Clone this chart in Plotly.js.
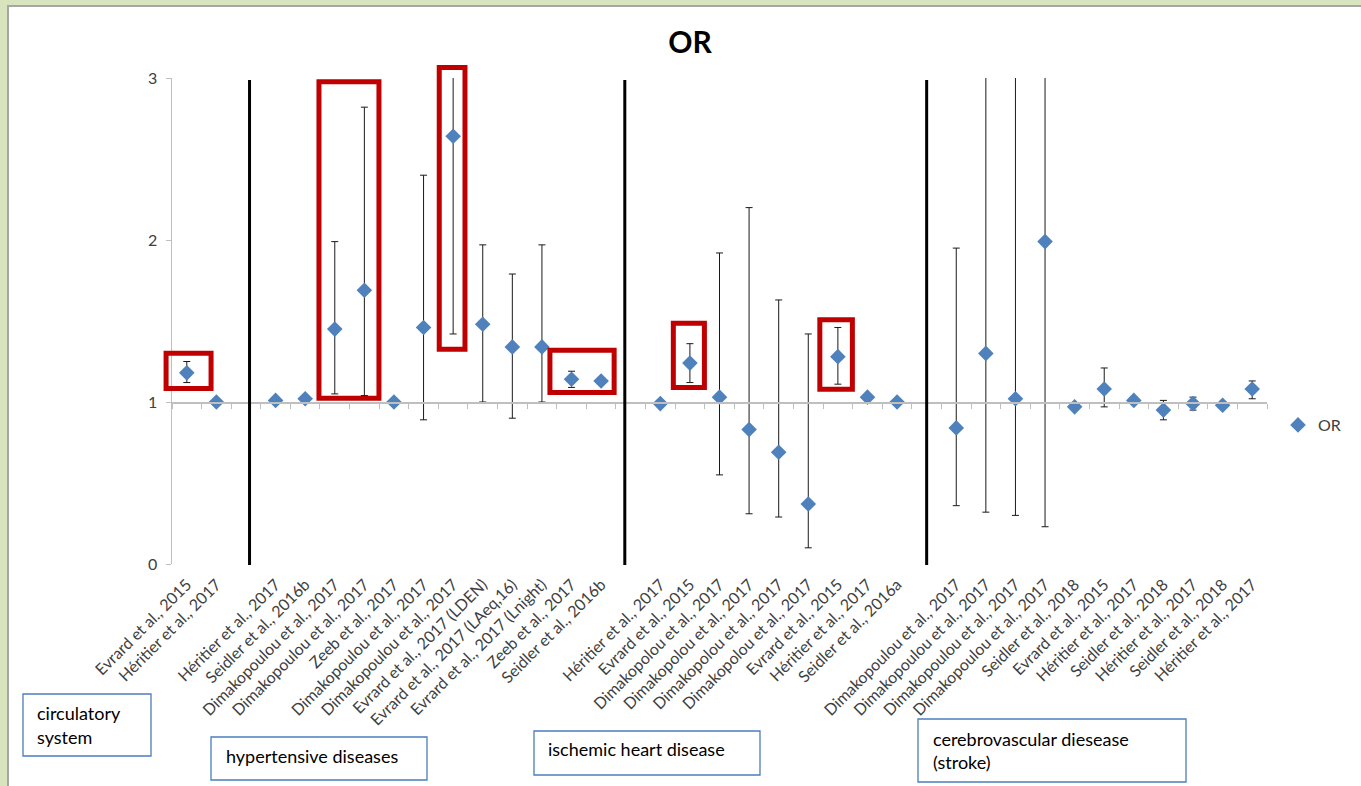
<!DOCTYPE html>
<html>
<head>
<meta charset="utf-8">
<script src="https://cdn.plot.ly/plotly-3.0.1.min.js"></script>
<style>
  html, body { margin: 0; padding: 0; }
  body { width: 1361px; height: 786px; background: #d7e4bd; position: relative; overflow: hidden; }
  #frame { position: absolute; left: 7px; top: 5px; width: 1354px; height: 781px; background: #ffffff;
           border-left: 2px solid #a6a6a6; border-top: 2px solid #a6a6a6; box-sizing: border-box; }
  #chart { position: absolute; left: 0; top: 0; width: 1361px; height: 786px; }
</style>
</head>
<body>
<div id="frame"></div>
<div id="chart"></div>
<script>
// ---------------- DATA ----------------
const groupNames = ["circulatory system", "hypertensive diseases", "ischemic heart disease", "cerebrovascular diesease (stroke)"];

const labelsCirc = ["Evrard et al., 2015", "Héritier et al., 2017"];
const orCirc = [1.18, 1.00];
const loCirc = [1.12, 0.99];
const hiCirc = [1.25, 1.01];

const labelsHyp = ["Héritier et al., 2017", "Seidler et al., 2016b", "Dimakopoulou et al., 2017", "Dimakopoulou et al., 2017",
  "Zeeb et al., 2017", "Dimakopoulou et al., 2017", "Dimakopoulou et al., 2017", "Evrard et al., 2017 (LDEN)",
  "Evrard et al., 2017 (LAeq,16)", "Evrard et al., 2017 (Lnight)", "Zeeb et al., 2017", "Seidler et al., 2016b"];
const orHyp = [1.01, 1.02, 1.45, 1.69, 1.00, 1.46, 2.64, 1.48, 1.34, 1.34, 1.14, 1.13];
const loHyp = [0.99, 1.01, 1.05, 1.04, 0.99, 0.89, 1.42, 1.00, 0.90, 1.00, 1.09, 1.11];
const hiHyp = [1.03, 1.03, 1.99, 2.82, 1.01, 2.40, 3.50, 1.97, 1.79, 1.97, 1.19, 1.15];

const labelsIhd = ["Héritier et al., 2017", "Evrard et al., 2015", "Dimakopolou et al., 2017", "Dimakopolou et al., 2017",
  "Dimakopolou et al., 2017", "Dimakopolou et al., 2017", "Evrard et al., 2015", "Héritier et al., 2017", "Seidler et al., 2016a"];
const orIhd = [0.99, 1.24, 1.03, 0.83, 0.69, 0.37, 1.28, 1.03, 1.00];
const loIhd = [0.98, 1.12, 0.55, 0.31, 0.29, 0.10, 1.11, 1.01, 0.98];
const hiIhd = [1.00, 1.36, 1.92, 2.20, 1.63, 1.42, 1.46, 1.04, 1.02];

const labelsCvd = ["Dimakopoulou et al., 2017", "Dimakopoulou et al., 2017", "Dimakopoulou et al., 2017", "Dimakopoulou et al., 2017",
  "Seidler et al., 2018", "Evrard et al., 2015", "Héritier et al., 2017", "Seidler et al., 2018", "Héritier et al., 2017",
  "Seidler et al., 2018", "Héritier et al., 2017"];
const orCvd = [0.84, 1.30, 1.02, 1.99, 0.97, 1.08, 1.01, 0.95, 0.99, 0.98, 1.08];
const loCvd = [0.36, 0.32, 0.30, 0.23, 0.95, 0.97, 1.00, 0.89, 0.95, 0.97, 1.02];
const hiCvd = [1.95, 5.30, 3.50, 17.0, 0.99, 1.21, 1.03, 1.01, 1.03, 1.00, 1.13];

const yTickVals = [0, 1, 2, 3];
const yTickText = ["0", "1", "2", "3"];

// ---------------- BUILD ----------------
const groups = [
  [labelsCirc, orCirc, loCirc, hiCirc],
  [labelsHyp, orHyp, loHyp, hiHyp],
  [labelsIhd, orIhd, loIhd, hiIhd],
  [labelsCvd, orCvd, loCvd, hiCvd]
];
const xs = [], ys = [], ePlus = [], eMinus = [], tickVals = [], tickText = [];
let slot = 0;
groups.forEach((g, gi) => {
  const [lab, or, lo, hi] = g;
  lab.forEach((l, i) => {
    xs.push(slot); ys.push(or[i]);
    ePlus.push(hi[i] - or[i]); eMinus.push(or[i] - lo[i]);
    tickVals.push(slot); tickText.push(l);
    slot++;
  });
  if (gi < groups.length - 1) slot++; // empty gap slot between groups
});
const nSlots = slot;
const xRange = [-0.5, nSlots - 0.5];
const yRange = [0, 3];
const boundaries = [];
for (let k = 0; k <= nSlots; k++) boundaries.push(k - 0.5);

// convert data coords to paper coords (for unclipped annotation drawing)
const dx = v => (v - xRange[0]) / (xRange[1] - xRange[0]);
const dy = v => (v - yRange[0]) / (yRange[1] - yRange[0]);

const M = {l: 172, r: 94, t: 78, b: 222};
const W = 1361, H = 786;
const PW = W - M.l - M.r, PH = H - M.t - M.b;
const px = x => (x - M.l) / PW;
const py = y => (H - M.b - y) / PH;

const FONT = "Lato, 'Open Sans', sans-serif";

const traces = [
  {
    type: "scatter", mode: "markers", name: "OR",
    x: xs, y: ys,
    marker: {symbol: "diamond", size: 12, color: "#4f81bd"},
    error_y: {type: "data", symmetric: false, array: ePlus, arrayminus: eMinus,
              color: "#1a1a1a", thickness: 1, width: 3.5},
    cliponaxis: true,
    hoverinfo: "x+y"
  },
  {
    type: "scatter", mode: "markers", x: [xRange[0]], y: [1], xaxis: "x2",
    marker: {opacity: 0}, showlegend: false, hoverinfo: "skip"
  }
];

const shapes = [];
// group separator lines (hand-drawn in reference)
[2.12, 14.8, 25.0].forEach(s => {
  shapes.push({type: "line", xref: "paper", yref: "paper", x0: dx(s), x1: dx(s), y0: py(80), y1: py(565),
               line: {color: "#000000", width: 3}});
});
// red highlight boxes [x0, x1, y0, y1] in data units
const redBoxes = [
  [-0.70, 0.82, 1.083, 1.301],
  [4.466, 6.493, 1.023, 2.977],
  [8.53, 9.40, 1.326, 3.065],
  [12.27, 14.44, 1.059, 1.320],
  [16.44, 17.49, 1.090, 1.486],
  [21.39, 22.49, 1.079, 1.507]
];
redBoxes.forEach(b => {
  shapes.push({type: "rect", xref: "paper", yref: "paper", x0: dx(b[0]), x1: dx(b[1]), y0: dy(b[2]), y1: dy(b[3]),
               line: {color: "#c00000", width: 5}, fillcolor: "rgba(0,0,0,0)"});
});
// group text boxes (pixel rects)
const textBoxes = [
  {x0: 23, x1: 151, y0: 694, y1: 756, lines: [["circulatory", 35, 713], ["system", 35, 737]]},
  {x0: 211, x1: 427, y0: 737, y1: 780, lines: [["hypertensive diseases", 224, 756]]},
  {x0: 534, x1: 760, y0: 731, y1: 775, lines: [["ischemic heart disease", 546, 749]]},
  {x0: 918, x1: 1186, y0: 719, y1: 782, lines: [["cerebrovascular diesease", 931, 739], ["(stroke)", 931, 762]]}
];
const annotations = [];
textBoxes.forEach(tb => {
  shapes.push({type: "rect", xref: "paper", yref: "paper", x0: px(tb.x0), x1: px(tb.x1), y0: py(tb.y0), y1: py(tb.y1),
               line: {color: "#4a7ebb", width: 1.3}, fillcolor: "#ffffff"});
  tb.lines.forEach(l => {
    annotations.push({xref: "paper", yref: "paper", x: px(l[1]), y: py(l[2]), xanchor: "left", yanchor: "middle",
                      text: l[0], showarrow: false, font: {family: FONT, size: 18, color: "#000000"}});
  });
});

const layout = {
  width: W, height: H,
  margin: M,
  paper_bgcolor: "rgba(0,0,0,0)",
  plot_bgcolor: "rgba(0,0,0,0)",
  font: {family: FONT, size: 14, color: "#404040"},
  title: {text: "<b>OR</b>", xref: "container", yref: "container", x: 690 / W, xanchor: "center",
          y: 1 - 42 / H, yanchor: "middle",
          font: {family: FONT, size: 30, color: "#000000"}},
  showlegend: true,
  legend: {x: px(1278), xanchor: "left", y: py(425), yanchor: "middle", bgcolor: "rgba(0,0,0,0)",
           font: {family: FONT, size: 16, color: "#404040"}, itemwidth: 30},
  xaxis: {
    range: xRange, tickmode: "array", tickvals: tickVals, ticktext: tickText, tickangle: -45,
    showline: false, showgrid: false, zeroline: false, ticks: "outside", ticklen: 4, tickcolor: "rgba(0,0,0,0)",
    tickfont: {family: FONT, size: 16, color: "#404040"}, fixedrange: true
  },
  xaxis2: {
    overlaying: "x", anchor: "free", position: dy(1), side: "bottom", range: xRange,
    tickmode: "array", tickvals: boundaries, showticklabels: false,
    showline: true, linecolor: "#bfbfbf", linewidth: 1.5, ticks: "outside", ticklen: 5, tickcolor: "#bfbfbf", tickwidth: 1,
    showgrid: false, zeroline: false, fixedrange: true
  },
  yaxis: {
    range: yRange, tickmode: "array", tickvals: yTickVals, ticktext: yTickText,
    showline: true, linecolor: "#bfbfbf", linewidth: 1.5, ticks: "outside", ticklen: 5, tickcolor: "#bfbfbf",
    ticklabelstandoff: 5,
    showgrid: false, zeroline: false, tickfont: {family: FONT, size: 16, color: "#404040"}, fixedrange: true
  },
  shapes: shapes,
  annotations: annotations
};

Plotly.newPlot("chart", traces, layout, {displayModeBar: false, staticPlot: true});
</script>
</body>
</html>
